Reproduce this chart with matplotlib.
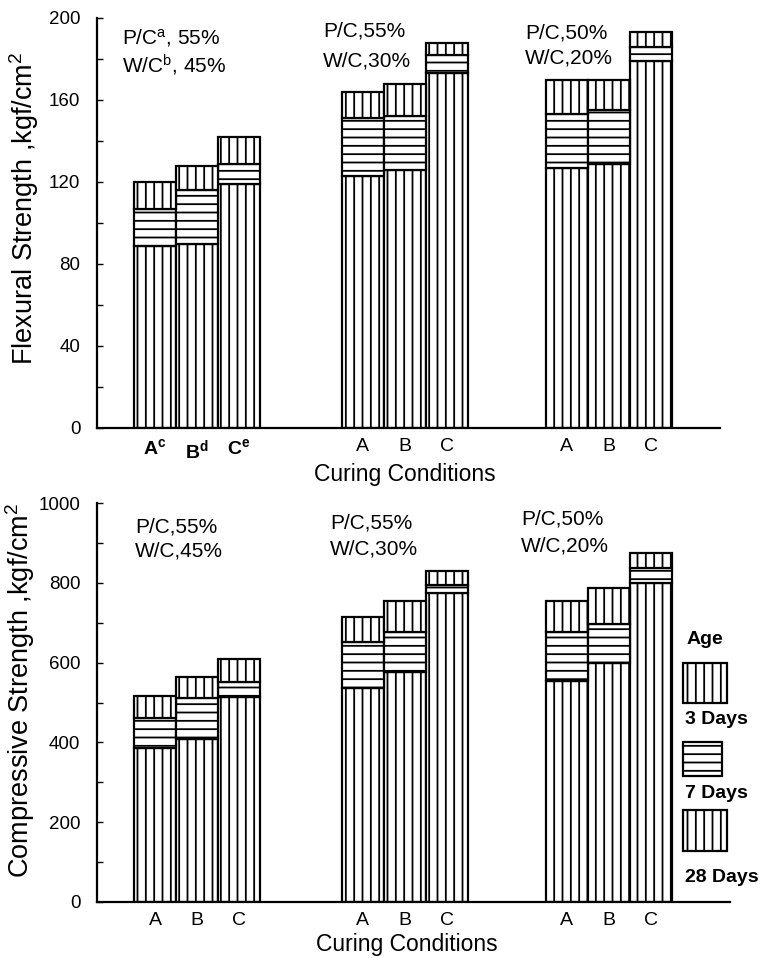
import matplotlib
matplotlib.use('Agg')
import matplotlib.pyplot as plt
from matplotlib.patches import Rectangle
from matplotlib.ticker import MultipleLocator

plt.rcParams['font.family'] = ['Liberation Sans', 'DejaVu Sans']
plt.rcParams['mathtext.fontset'] = 'custom'
plt.rcParams['mathtext.rm'] = 'Liberation Sans'
plt.rcParams['mathtext.it'] = 'Liberation Sans'
plt.rcParams['mathtext.bf'] = 'Liberation Sans:bold'
plt.rcParams['hatch.linewidth'] = 1.3

# ---------------- data ----------------
conditions = ['A', 'B', 'C']
groups = ['P/C 55% W/C 45%', 'P/C 55% W/C 30%', 'P/C 50% W/C 20%']

flex_3d = [89, 90, 119, 123, 126, 173, 127, 129, 179]
flex_7d = [107, 116, 129, 151, 152, 182, 153, 155, 186]
flex_28d = [120, 128, 142, 164, 168, 188, 170, 170, 193]

comp_3d = [386, 408, 514, 536, 576, 774, 554, 599, 800]
comp_7d = [461, 511, 551, 652, 677, 794, 677, 697, 837]
comp_28d = [516, 564, 609, 714, 754, 830, 754, 787, 875]

top_ticklabels = [r'$\mathbf{A^c}$', r'$\mathbf{B^d}$', r'$\mathbf{C^e}$',
                  'A', 'B', 'C', 'A', 'B', 'C']
bot_ticklabels = ['A', 'B', 'C'] * 3

group_offsets = [0, 4.95, 9.8]
xpos = [g + i for g in group_offsets for i in range(3)]

W, H = 763, 958
fig = plt.figure(figsize=(W / 100, H / 100), dpi=100)


def fx(px):
    return px / W


def fy(py):
    return 1 - py / H


ax1 = fig.add_axes([fx(97), fy(428), (720 - 97) / W, (428 - 18) / H])
ax2 = fig.add_axes([fx(97), fy(902), (730 - 97) / W, (902 - 503) / H])


def draw(ax, d3, d7, d28):
    h7 = [b - a for a, b in zip(d3, d7)]
    h28 = [b - a for a, b in zip(d7, d28)]
    kw = dict(width=1.0, facecolor='white', edgecolor='black', linewidth=1.6)
    ax.bar(xpos, d3, hatch='||', **kw)
    ax.bar(xpos, h7, bottom=d3, hatch='--', **kw)
    ax.bar(xpos, h28, bottom=d7, hatch='||', **kw)
    for s in ['top', 'right']:
        ax.spines[s].set_visible(False)
    for s in ['left', 'bottom']:
        ax.spines[s].set_linewidth(1.6)
    ax.set_xticks(xpos)
    ax.tick_params(axis='x', length=0, pad=7, labelsize=14)
    ax.tick_params(axis='y', which='both', direction='in', length=4, width=1,
                   pad=12, labelsize=13.5)


draw(ax1, flex_3d, flex_7d, flex_28d)
ax1.set_xlim(-1.38, 13.45)
ax1.set_ylim(0, 200)
ax1.yaxis.set_major_locator(MultipleLocator(40))
ax1.yaxis.set_minor_locator(MultipleLocator(20))
ax1.set_xticklabels(top_ticklabels)
ax1.set_xlabel('Curing Conditions', fontsize=16.5)
ax1.xaxis.set_label_coords((405 - 97) / (720 - 97), -(474 - 428) / 410)
ax1.set_ylabel('Flexural Strength ,kgf/cm$^2$', fontsize=19.5)
ax1.yaxis.set_label_coords(-(97 - 24) / (720 - 97), (428 - 208) / 410)

draw(ax2, comp_3d, comp_7d, comp_28d)
ax2.set_xlim(-1.38, 13.69)
ax2.set_ylim(0, 1000)
ax2.yaxis.set_major_locator(MultipleLocator(200))
ax2.yaxis.set_minor_locator(MultipleLocator(100))
ax2.set_xticklabels(bot_ticklabels)
ax2.set_xlabel('Curing Conditions', fontsize=16.5)
ax2.xaxis.set_label_coords((407 - 97) / (730 - 97), -(944 - 902) / 399)
ax2.set_ylabel('Compressive Strength ,kgf/cm$^2$', fontsize=19.5)
ax2.yaxis.set_label_coords(-(97 - 20) / (730 - 97), (902 - 690) / 399)
for ax in (ax1, ax2):
    ax.xaxis.label.set_va('center')
    ax.yaxis.label.set_va('center')

# annotations
fs = 15
ann = [
    (122, 38, r'P/C$^{\rm a}$, 55%'), (122, 65, r'W/C$^{\rm b}$, 45%'),
    (323, 31, 'P/C,55%'), (323, 61, 'W/C,30%'),
    (525, 33, 'P/C,50%'), (525, 58, 'W/C,20%'),
    (135, 527, 'P/C,55%'), (135, 551, 'W/C,45%'),
    (330, 523, 'P/C,55%'), (330, 549, 'W/C,30%'),
    (521, 519, 'P/C,50%'), (521, 546, 'W/C,20%'),
]
for x, y, t in ann:
    fig.text(fx(x), fy(y), t, fontsize=fs, ha='left', va='center')

# legend
fig.text(fx(687), fy(640), 'Age', fontsize=14, fontweight='bold', ha='left', va='center')
boxes = [(683, 663, 727, 703, '||', '3 Days', 720),
         (683, 742, 722, 776, '--', '7 Days', 794),
         (683, 810, 727, 851, '||', '28 Days', 878)]
for x0, y0, x1, y1, h, lab, ly in boxes:
    r = Rectangle((fx(x0), fy(y1)), (x1 - x0) / W, (y1 - y0) / H,
                  transform=fig.transFigure, facecolor='white',
                  edgecolor='black', linewidth=1.6, hatch=h)
    fig.add_artist(r)
    fig.text(fx(685), fy(ly), lab, fontsize=14, fontweight='bold',
             ha='left', va='center')

fig.savefig('out.png', dpi=100)
